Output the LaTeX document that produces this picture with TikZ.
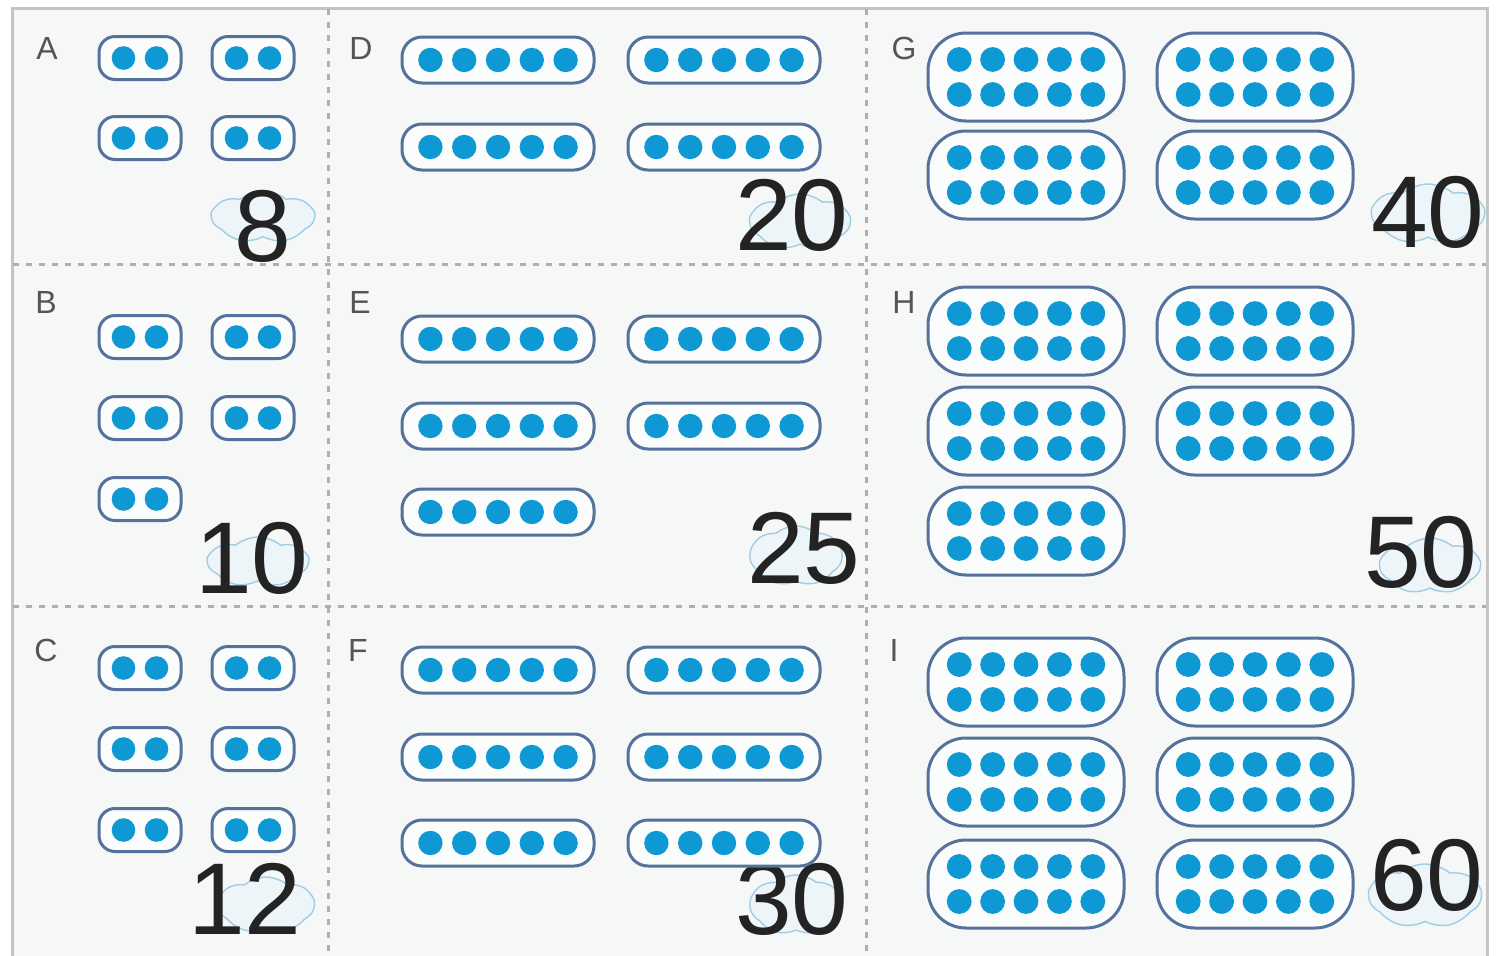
\documentclass[tikz,border=0pt]{standalone}
\usepackage{fontspec}
\setmainfont{Liberation Sans}
\usetikzlibrary{shapes.symbols}
\definecolor{dotblue}{RGB}{14,152,212}
\definecolor{podline}{RGB}{84,114,156}
\definecolor{gridgray}{RGB}{175,175,175}
\definecolor{bordergray}{RGB}{196,196,196}
\definecolor{cloudline}{RGB}{160,205,230}
\definecolor{cloudfill}{RGB}{238,245,249}
\definecolor{bgfill}{RGB}{246,247,247}
\definecolor{labelgray}{RGB}{85,85,85}
\definecolor{numblack}{RGB}{35,35,35}
\tikzset{
  podbase/.style={draw=podline, line width=1.5pt, inner sep=0pt, fill=white!60!bgfill},
  podtwo/.style={podbase, rounded corners=8pt, minimum width=41pt, minimum height=21.5pt},
  podfive/.style={podbase, rounded corners=10pt, minimum width=96pt, minimum height=23pt},
  podten/.style={podbase, rounded corners=19pt, minimum width=98pt, minimum height=44pt},
  gridline/.style={draw=gridgray, line width=1.5pt, dash pattern=on 3pt off 3.5pt},
  bignum/.style={font=\fontsize{51}{51}\selectfont, text=numblack, inner sep=0pt},
  letterlabel/.style={font=\fontsize{16}{16}\selectfont, text=labelgray, inner sep=0pt},
  cloudbg/.style={cloud, cloud puffs=7, cloud puff arc=80, cloud ignores aspect, draw=cloudline, fill=cloudfill, line width=0.7pt, inner sep=0pt}
}
\newcommand\podII[3]{\node[podtwo] (#1) at (#2,#3) {};
  \foreach \dx in {-1,1} \fill[dotblue] ([xshift={\dx*8.25pt}]#1.center) circle (5.9pt);}
\newcommand\podV[3]{\node[podfive] (#1) at (#2,#3) {};
  \foreach \dx in {-2,-1,0,1,2} \fill[dotblue] ([xshift={\dx*16.9pt}]#1.center) circle (6.1pt);}
\newcommand\podX[3]{\node[podten] (#1) at (#2,#3) {};
  \foreach \dx in {-2,-1,0,1,2} \foreach \dy in {-1,1} \fill[dotblue] ([xshift={\dx*16.7pt},yshift={\dy*8.75pt}]#1.center) circle (6.2pt);}
\begin{document}
\begin{tikzpicture}[x=0.5pt,y=-0.5pt]
\useasboundingbox (0,0) rectangle (1496,955);
\fill[white] (0,0) rectangle (1496,955);
% card background and border
\draw[bordergray, line width=1.5pt, fill=bgfill] (12,8) rectangle (1487,975);
% dotted cell lines
\draw[gridline] (328,9) -- (328,955);
\draw[gridline] (866,9) -- (866,955);
\draw[gridline] (13,264) -- (1486,264);
\draw[gridline] (13,606) -- (1486,606);
% letters
\node[letterlabel] (la) at (47,48) {A};
\node[letterlabel] (lb) at (46,302) {B};
\node[letterlabel] (lc) at (46,650) {C};
\node[letterlabel] (ld) at (361,48) {D};
\node[letterlabel] (le) at (360,302) {E};
\node[letterlabel] (lf) at (358,650) {F};
\node[letterlabel] (lg) at (904,48) {G};
\node[letterlabel] (lh) at (904,302) {H};
\node[letterlabel] (li) at (894,650) {I};
% clouds behind numbers
\node[cloudbg, minimum width=51pt, minimum height=26pt] (ca) at (263,217) {};
\node[cloudbg, minimum width=50pt, minimum height=25pt] (cb) at (258,562) {};
\node[cloudbg, minimum width=48pt, minimum height=28pt] (cc) at (266,905) {};
\node[cloudbg, minimum width=50pt, minimum height=28pt] (cd) at (800,222) {};
\node[cloudbg, minimum width=46pt, minimum height=30pt] (ce) at (796,556) {};
\node[cloudbg, minimum width=46pt, minimum height=30pt] (cf) at (796,905) {};
\node[cloudbg, minimum width=56pt, minimum height=30pt] (cg) at (1428,214) {};
\node[cloudbg, minimum width=50pt, minimum height=28pt] (ch) at (1430,566) {};
\node[cloudbg, minimum width=56pt, minimum height=32pt] (ci) at (1425,896) {};
% numbers
\node[bignum] (na) at (263,226) {8};
\node[bignum] (nb) at (252,558) {10};
\node[bignum] (nc) at (245,899) {12};
\node[bignum] (nd) at (792,215) {20};
\node[bignum] (ne) at (804,548) {25};
\node[bignum] (nf) at (792,899) {30};
\node[bignum] (ng) at (1428,212) {40};
\node[bignum] (nh) at (1421,552) {50};
\node[bignum] (ni) at (1427,875) {60};
% A
\podII{a1}{140}{58} \podII{a2}{253}{58}
\podII{a3}{140}{138} \podII{a4}{253}{138}
% B
\podII{b1}{140}{337} \podII{b2}{253}{337}
\podII{b3}{140}{418} \podII{b4}{253}{418}
\podII{b5}{140}{499}
% C
\podII{c1}{140}{668} \podII{c2}{253}{668}
\podII{c3}{140}{749} \podII{c4}{253}{749}
\podII{c5}{140}{830} \podII{c6}{253}{830}
% D
\podV{d1}{498}{60} \podV{d2}{724}{60}
\podV{d3}{498}{147} \podV{d4}{724}{147}
% E
\podV{e1}{498}{339} \podV{e2}{724}{339}
\podV{e3}{498}{426} \podV{e4}{724}{426}
\podV{e5}{498}{512}
% F
\podV{f1}{498}{670} \podV{f2}{724}{670}
\podV{f3}{498}{757} \podV{f4}{724}{757}
\podV{f5}{498}{843} \podV{f6}{724}{843}
% G
\podX{g1}{1026}{77} \podX{g2}{1255}{77}
\podX{g3}{1026}{175} \podX{g4}{1255}{175}
% H
\podX{h1}{1026}{331} \podX{h2}{1255}{331}
\podX{h3}{1026}{431} \podX{h4}{1255}{431}
\podX{h5}{1026}{531}
% I
\podX{i1}{1026}{682} \podX{i2}{1255}{682}
\podX{i3}{1026}{782} \podX{i4}{1255}{782}
\podX{i5}{1026}{884} \podX{i6}{1255}{884}
\end{tikzpicture}
\end{document}
